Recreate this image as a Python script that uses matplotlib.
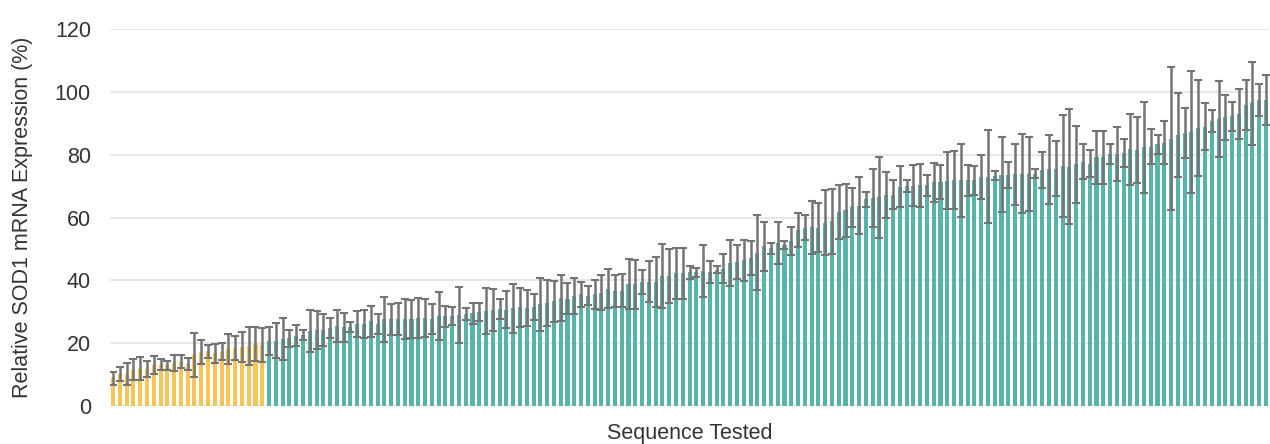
import matplotlib
matplotlib.use("Agg")
import matplotlib.pyplot as plt
import numpy as np

plt.rcParams['font.family'] = ['Liberation Sans', 'DejaVu Sans']

# ---- data ----
yellow_means = [8.8, 10.2, 10.3, 11.6, 11.9, 11.7, 13.0, 13.2, 12.9, 13.6, 14.1, 13.4,
                16.2, 17.2, 17.4, 16.8, 17.3, 18.1, 18.5, 18.8, 19.1, 19.7, 19.4]
yellow_errs = [2.0, 2.1, 3.5, 3.3, 3.7, 2.6, 2.8, 1.7, 1.5, 2.5, 2.0, 1.8,
               7.0, 3.7, 2.1, 3.0, 2.8, 4.8, 3.7, 4.8, 6.0, 5.3, 5.3]

teal_means = [
    # segment 1
    20.6, 20.8, 21.3, 21.5, 22.4, 22.6, 23.9, 24.3, 24.2, 24.7, 25.5, 25.1,
    25.2, 26.1, 26.2, 26.9, 26.1, 27.6, 27.6, 27.7, 27.7, 27.6, 28.1, 28.1,
    # segment 2
    27.8, 28.7, 28.5, 28.6, 29.0, 29.2, 29.5, 30.0, 30.2, 30.5, 31.0, 30.7,
    31.1, 31.4, 31.2, 31.6, 32.4, 32.8, 33.3, 34.4, 34.2, 35.1, 35.5, 35.1,
    # segment 3
    35.5, 36.1, 37.4, 36.6, 36.7, 38.9, 38.8, 39.5, 39.6, 39.5, 41.3, 41.4,
    42.3, 42.3, 42.5, 42.5, 42.9, 42.7, 43.4, 43.7, 45.5, 45.7, 46.4, 47.1, 48.8,
    # segment 4
    50.8, 50.2, 51.8, 51.2, 52.5, 56.0, 56.8, 56.9, 56.8, 58.4, 58.8, 61.9,
    62.3, 63.2, 63.8, 65.8, 66.3, 66.5, 67.2, 67.3, 69.8, 70.1, 70.1, 70.2,
    # segment 5
    70.2, 71.2, 71.4, 71.7, 71.9, 71.8, 71.9, 71.9, 73.0, 73.0, 73.3, 73.6,
    73.6, 73.8, 73.9, 73.9, 74.0, 75.1, 75.3, 75.6, 76.4, 76.2, 76.9, 77.8, 77.1,
    # segment 6
    79.2, 79.2, 80.2, 80.2, 80.5, 81.8, 81.5, 82.3, 82.6, 83.3, 83.8, 85.1,
    86.2, 86.9, 87.3, 88.5, 88.9, 90.8, 91.4, 91.9, 92.2, 93.0, 95.8, 96.3, 97.4, 97.5,
]
teal_errs = [
    4.5, 5.6, 6.6, 2.6, 3.3, 1.7, 6.6, 6.0, 5.2, 3.2, 5.0, 4.6,
    1.6, 4.1, 4.4, 4.9, 3.1, 7.1, 5.0, 5.1, 6.5, 6.1, 6.3, 6.1,
    4.8, 7.7, 3.3, 2.8, 8.9, 1.9, 3.3, 2.8, 7.4, 6.6, 3.2, 6.0,
    7.8, 6.2, 5.8, 4.1, 8.5, 7.4, 6.5, 7.2, 4.8, 5.7, 4.0, 3.0,
    4.5, 5.6, 6.3, 5.0, 5.2, 7.9, 7.8, 3.8, 6.5, 8.0, 10.2, 8.7,
    8.1, 8.1, 2.0, 1.5, 8.2, 3.6, 1.1, 4.6, 7.3, 5.4, 6.6, 5.4, 11.9,
    7.7, 1.7, 6.7, 1.3, 4.5, 5.4, 4.1, 8.5, 7.9, 10.4, 10.3, 8.6,
    8.5, 6.2, 9.1, 2.4, 9.3, 12.9, 7.2, 4.5, 6.5, 2.0, 6.5, 6.7,
    3.2, 6.3, 5.4, 9.0, 9.2, 11.7, 4.9, 4.6, 7.0, 14.8, 1.4, 11.9,
    4.2, 9.7, 12.6, 11.7, 1.4, 5.7, 11.0, 8.6, 16.3, 18.3, 12.3, 5.6, 4.3,
    8.5, 8.5, 3.2, 8.7, 4.5, 11.3, 10.6, 14.6, 5.6, 3.1, 6.8, 22.8,
    13.3, 7.9, 19.5, 15.3, 7.5, 3.5, 12.2, 7.2, 4.5, 7.9, 7.9, 13.1, 5.0, 8.0,
]

y_ticks = [0, 20, 40, 60, 80, 100, 120]
x_label = "Sequence Tested"
y_label = "Relative SOD1 mRNA Expression (%)"

# ---- plot ----
means = yellow_means + teal_means
errs = yellow_errs + teal_errs
n_y = len(yellow_means)
colors = ['#F5C556'] * n_y + ['#58B3AB'] * len(teal_means)
x = np.arange(len(means))

fig = plt.figure(figsize=(12.7, 4.44), dpi=100)
ax = fig.add_axes([0.0869, 0.0856, 0.9121, 0.849])

ax.bar(x, means, width=0.6, color=colors, zorder=2)
ax.errorbar(x, means, yerr=errs, fmt='none', ecolor='#747474',
            elinewidth=1.8, capsize=3.0, capthick=1.5, zorder=3)

ax.set_xlim(-0.4, len(means) - 0.6)
ax.set_ylim(0, 120)
ax.set_yticks(y_ticks)
ax.set_xticks([])
ax.yaxis.grid(True, color='#e3e3e3', linewidth=1.2, zorder=0)
ax.set_axisbelow(True)
for s in ax.spines.values():
    s.set_visible(False)
ax.tick_params(axis='y', length=0, pad=14, labelsize=15.5, labelcolor='#333333')

ax.set_xlabel(x_label, fontsize=15.5, color='#333333', labelpad=12)
ax.set_ylabel(y_label, fontsize=15.5, color='#333333')
ax.yaxis.set_label_coords(-0.067, 0.5)

fig.savefig('out.png', dpi=100)
